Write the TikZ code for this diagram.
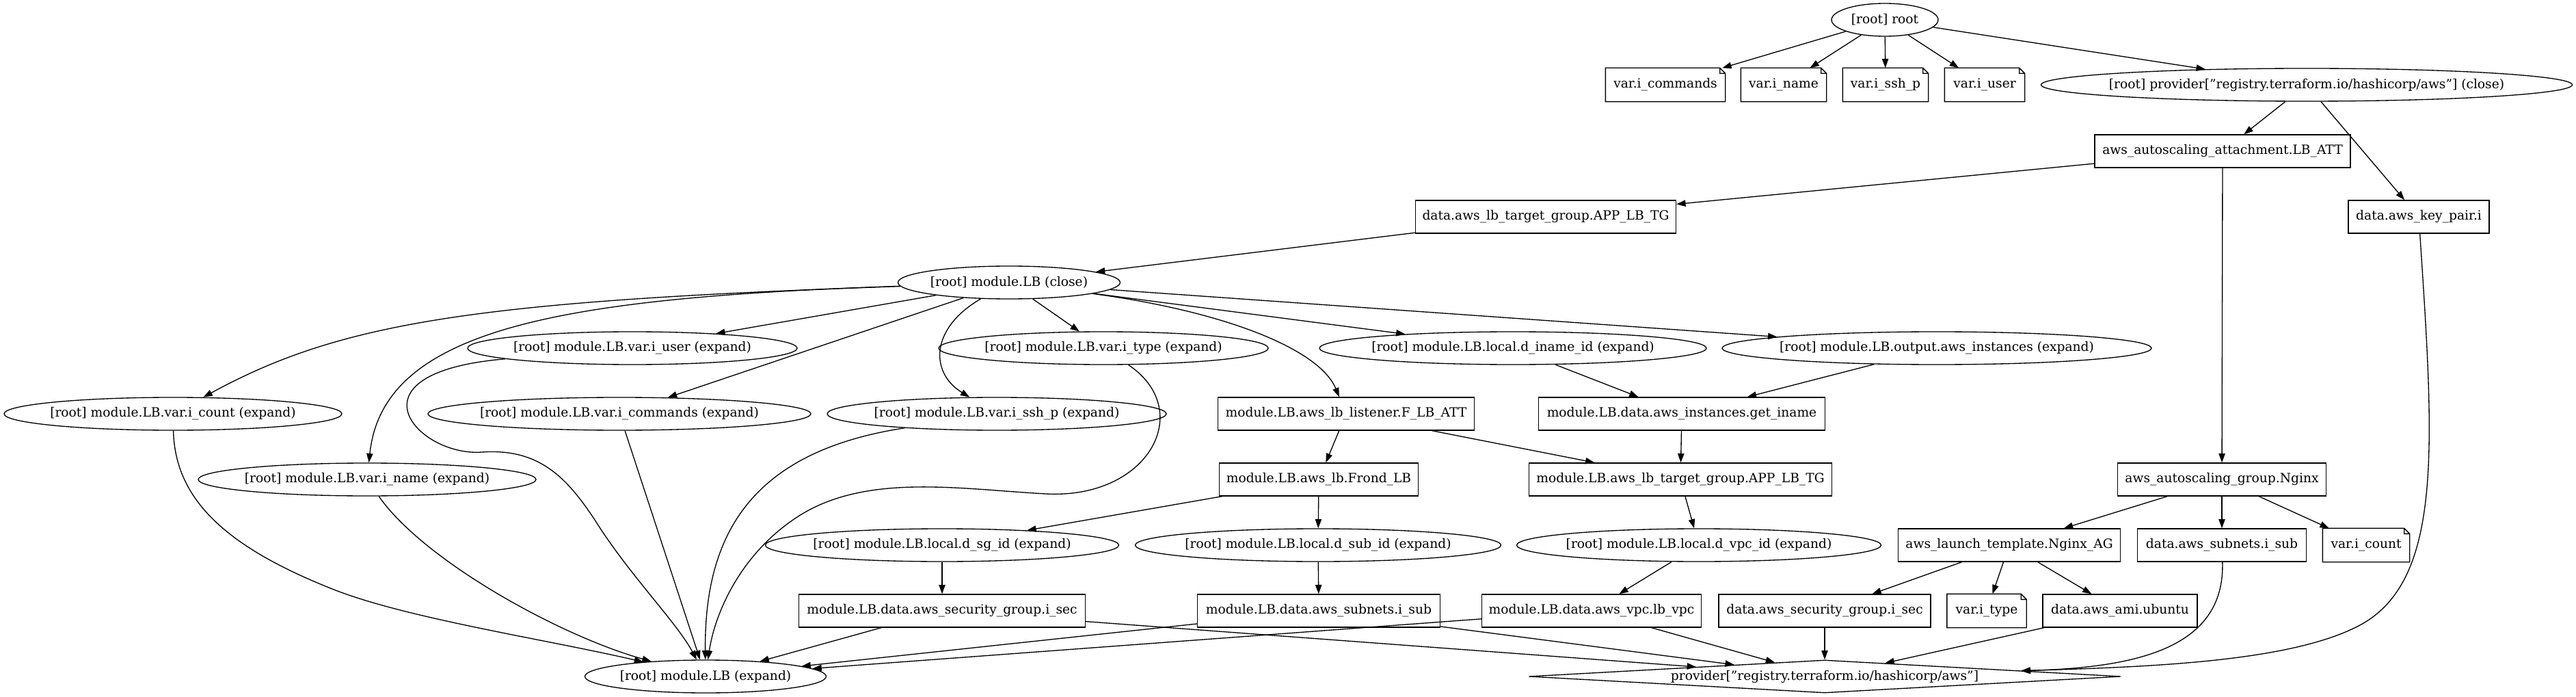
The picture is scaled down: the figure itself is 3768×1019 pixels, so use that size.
\documentclass[tikz,border=0pt]{standalone}
\usepackage{fontspec}
\setmainfont{DejaVu Serif}
\usetikzlibrary{shapes.geometric,arrows.meta,calc}

\tikzset{
  tfnode/.style={font=\fontsize{14pt}{17pt}\selectfont, line width=1pt, minimum height=36pt, inner sep=0pt},
  px/.style={minimum width=#1*0.75pt},
  tfbox/.style={tfnode, draw, rectangle},
  tfell/.style={tfnode, draw, ellipse, inner xsep=-300pt},
  tfnote/.style={tfnode, rectangle},
  tfprov/.style={tfnode, draw, diamond, aspect=18, inner xsep=-300pt},
  tfline/.style={line width=1pt},
  tfedge/.style={tfline, -{Triangle[length=10pt,width=7pt]}}
}

\begin{document}
\begin{tikzpicture}[x=0.75pt,y=0.75pt,yscale=-1,xscale=1]
\useasboundingbox (0,0) rectangle (3768,1019);

%Shape: Ellipse nodes
\node[tfell, px=156] (root) at (2757,29) {[root] root};
\node[tfell, px=777] (provclose) at (3374,124) {[root] provider["registry.terraform.io/hashicorp/aws"] (close)};
\node[tfell, px=325] (lbclose) at (1476,413) {[root] module.LB (close)};
\node[tfell, px=482] (vuserx) at (925,509) {[root] module.LB.var.i\_user (expand)};
\node[tfell, px=482] (vtypex) at (1614,509) {[root] module.LB.var.i\_type (expand)};
\node[tfell, px=566] (inameid) at (2213,509) {[root] module.LB.local.d\_iname\_id (expand)};
\node[tfell, px=628] (outinst) at (2833,509) {[root] module.LB.output.aws\_instances (expand)};
\node[tfell, px=494] (vcountx) at (253,605) {[root] module.LB.var.i\_count (expand)};
\node[tfell, px=560] (vcmdx) at (906,605) {[root] module.LB.var.i\_commands (expand)};
\node[tfell, px=496] (vsshx) at (1458,605) {[root] module.LB.var.i\_ssh\_p (expand)};
\node[tfell, px=494] (vnamex) at (537,701) {[root] module.LB.var.i\_name (expand)};
\node[tfell, px=517] (sgid) at (1378,797) {[root] module.LB.local.d\_sg\_id (expand)};
\node[tfell, px=535] (subid) at (1928,797) {[root] module.LB.local.d\_sub\_id (expand)};
\node[tfell, px=533] (vpcid) at (2485,797) {[root] module.LB.local.d\_vpc\_id (expand)};
\node[tfell, px=353] (lbexp) at (1032,989) {[root] module.LB (expand)};

%Shape: Rectangle nodes
\node[tfbox, px=374] (asgatt) at (3251,221) {aws\_autoscaling\_attachment.LB\_ATT};
\node[tfbox, px=381] (dtg) at (2261,317) {data.aws\_lb\_target\_group.APP\_LB\_TG};
\node[tfbox, px=206] (keypair) at (3538,317) {data.aws\_key\_pair.i};
\node[tfbox, px=375] (listener) at (1969,605) {module.LB.aws\_lb\_listener.F\_LB\_ATT};
\node[tfbox, px=419] (getiname) at (2460,605) {module.LB.data.aws\_instances.get\_iname};
\node[tfbox, px=291] (frondlb) at (1929,701) {module.LB.aws\_lb.Frond\_LB};
\node[tfbox, px=443] (mtg) at (2458,701) {module.LB.aws\_lb\_target\_group.APP\_LB\_TG};
\node[tfbox, px=305] (asg) at (3250,701) {aws\_autoscaling\_group.Nginx};
\node[tfbox, px=325] (launch) at (2939,797) {aws\_launch\_template.Nginx\_AG};
\node[tfbox, px=247] (dsub) at (3250,797) {data.aws\_subnets.i\_sub};
\node[tfbox, px=419] (msec) at (1378,893) {module.LB.data.aws\_security\_group.i\_sec};
\node[tfbox, px=355] (msub) at (1929,893) {module.LB.data.aws\_subnets.i\_sub};
\node[tfbox, px=321] (lbvpc) at (2328,893) {module.LB.data.aws\_vpc.lb\_vpc};
\node[tfbox, px=310] (dsec) at (2669,893) {data.aws\_security\_group.i\_sec};
\node[tfbox, px=226] (ami) at (3101,893) {data.aws\_ami.ubuntu};

%Shape: Note nodes
\node[tfnote, px=174] (vcmd) at (2436,124) {var.i\_commands};
\node[tfnote, px=124] (vname) at (2609,124) {var.i\_name};
\node[tfnote, px=124] (vssh) at (2758,124) {var.i\_ssh\_p};
\node[tfnote, px=116] (vuser) at (2903,124) {var.i\_user};
\node[tfnote, px=126] (vcount) at (3461,797) {var.i\_count};
\node[tfnote, px=115] (vtype) at (2906,893) {var.i\_type};
\foreach \n in {vcmd,vname,vssh,vuser,vcount,vtype}
  \draw[tfline] (\n.south west) -- (\n.north west) -- ($(\n.north east)+(-8,0)$) -- ($(\n.north east)+(0,8)$) -- (\n.south east) -- cycle
    ($(\n.north east)+(-8,0)$) |- ($(\n.north east)+(0,8)$);

%Shape: Diamond node
\node[tfprov, px=866] (prov) at (2669,989) {provider["registry.terraform.io/hashicorp/aws"]};

%Straight Lines
\draw[tfedge] (root) -- (vcmd);
\draw[tfedge] (root) -- (vname);
\draw[tfedge] (root) -- (vssh);
\draw[tfedge] (root) -- (vuser);
\draw[tfedge] (root) -- (provclose);
\draw[tfedge] (provclose) -- (asgatt);
\draw[tfedge] (provclose) -- (keypair);
\draw[tfedge] (asgatt) -- (dtg);
\draw[tfedge] (asgatt) -- (asg);
\draw[tfedge] (dtg) -- (lbclose);
\draw[tfedge] (lbclose) -- (vuserx);
\draw[tfedge] (lbclose) -- (vcmdx);
\draw[tfedge] (lbclose) -- (vtypex);
\draw[tfedge] (lbclose) -- (inameid);
\draw[tfedge] (lbclose) -- (outinst);
\draw[tfedge] (inameid) -- (getiname);
\draw[tfedge] (outinst) -- (getiname);
\draw[tfedge] (listener) -- (frondlb);
\draw[tfedge] (listener) -- (mtg);
\draw[tfedge] (getiname) -- (mtg);
\draw[tfedge] (frondlb) -- (sgid);
\draw[tfedge] (frondlb) -- (subid);
\draw[tfedge] (mtg) -- (vpcid);
\draw[tfedge] (asg) -- (launch);
\draw[tfedge] (asg) -- (dsub);
\draw[tfedge] (asg) -- (vcount);
\draw[tfedge] (sgid) -- (msec);
\draw[tfedge] (subid) -- (msub);
\draw[tfedge] (vpcid) -- (lbvpc);
\draw[tfedge] (launch) -- (dsec);
\draw[tfedge] (launch) -- (vtype);
\draw[tfedge] (launch) -- (ami);
\draw[tfedge] (vcmdx) -- (lbexp);
\draw[tfedge] (msec) -- (lbexp);
\draw[tfedge] (msub) -- (lbexp);
\draw[tfedge] (lbvpc) -- (lbexp);
\draw[tfedge] (msec) -- (prov);
\draw[tfedge] (msub) -- (prov);
\draw[tfedge] (lbvpc) -- (prov);
\draw[tfedge] (dsec) -- (prov);
\draw[tfedge] (ami) -- (prov);

%Curve Lines
\draw[tfedge] (lbclose) .. controls (700,440) and (500,470) .. (vcountx);
\draw[tfedge] (lbclose) .. controls (820,435) and (560,480) .. (vnamex);
\draw[tfedge] (lbclose) .. controls (1360,480) and (1360,545) .. (vsshx);
\draw[tfedge] (lbclose) .. controls (1790,455) and (1930,510) .. (listener);
\draw[tfedge] (vuserx) .. controls (500,545) and (610,668) .. (705,661) .. controls (790,655) and (830,700) .. (870,760) .. controls (920,840) and (990,910) .. (lbexp);
\draw[tfedge] (vcountx) .. controls (256,730) and (330,800) .. (491,863) .. controls (600,905) and (800,935) .. (lbexp);
\draw[tfedge] (vnamex) .. controls (620,820) and (820,930) .. (lbexp);
\draw[tfedge] (vsshx) .. controls (1100,660) and (1030,780) .. (lbexp);
\draw[tfedge] (vtypex) .. controls (1750,600) and (1680,730) .. (1530,722) .. controls (1400,715) and (1260,690) .. (1160,760) .. controls (1080,815) and (1045,900) .. (lbexp);
\draw[tfedge] (keypair) .. controls (3560,650) and (3575,850) .. (3450,915) .. controls (3350,967) and (3150,975) .. (prov);
\draw[tfedge] (dsub) .. controls (3255,950) and (3120,976) .. (prov);

\end{tikzpicture}
\end{document}
